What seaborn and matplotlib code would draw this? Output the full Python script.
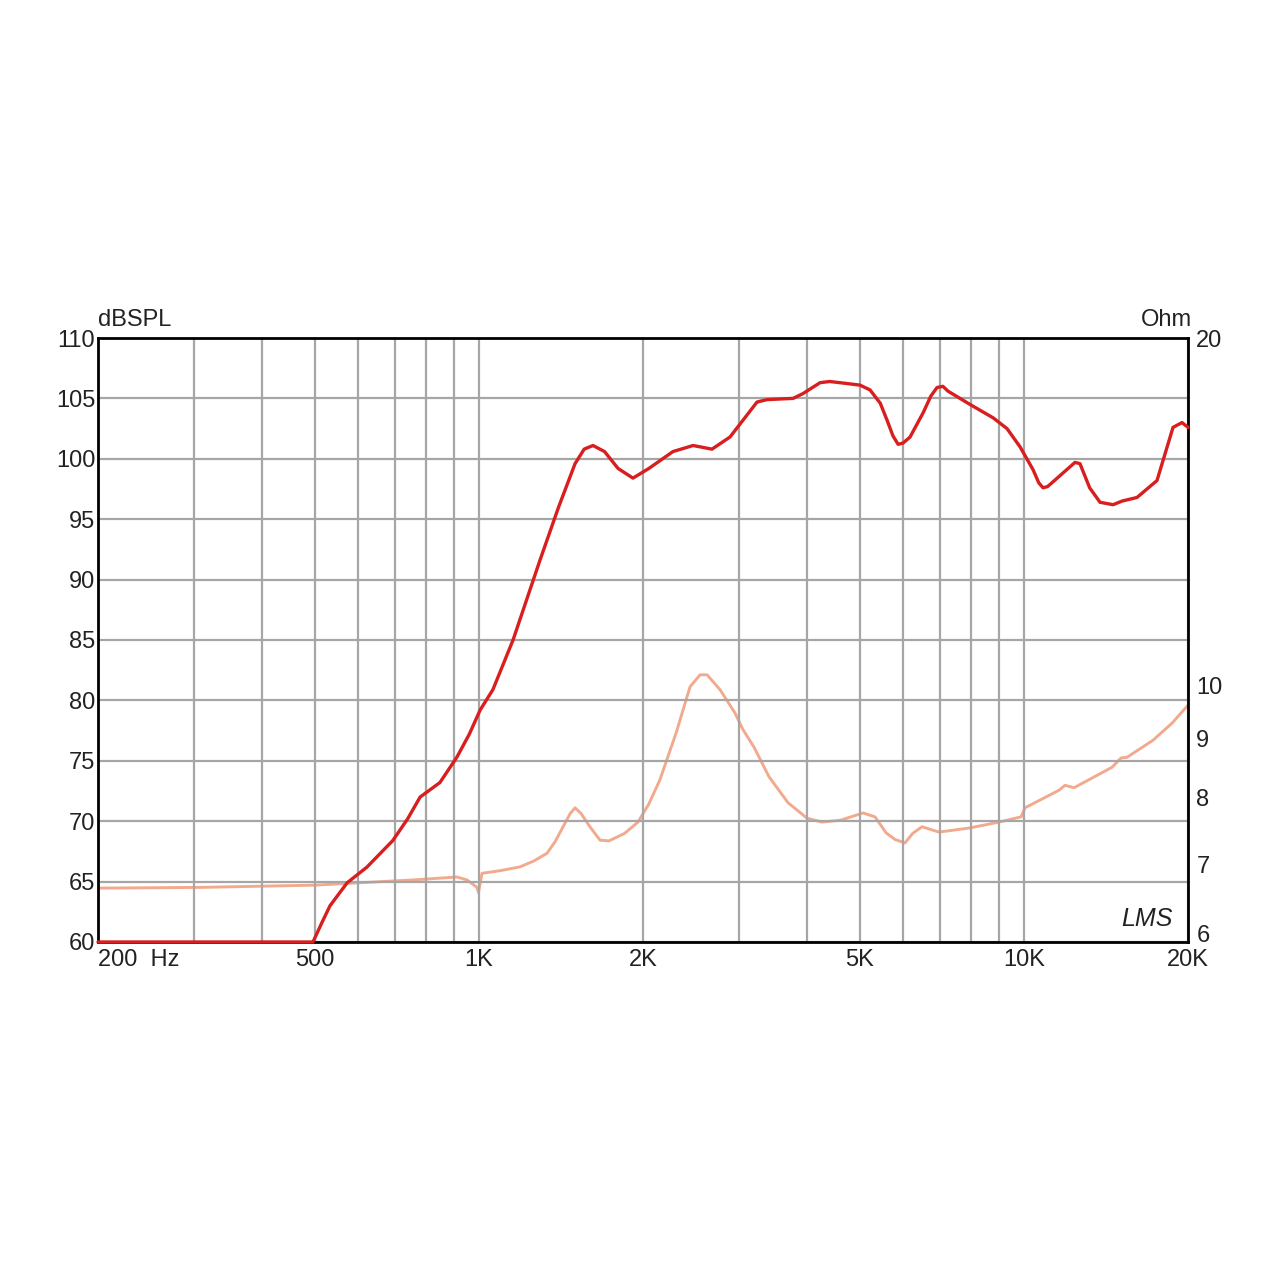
import matplotlib
matplotlib.use('Agg')
import matplotlib.pyplot as plt
import matplotlib.ticker as mticker
import seaborn as sns
import pandas as pd

# Frequenzgang (dBSPL)
spl_freq = [200, 300, 400, 496, 515, 533, 573, 623, 695, 740, 780, 848, 911, 960, 1005,
            1061, 1155, 1294, 1400, 1501, 1560, 1619, 1700, 1800, 1917, 2050, 2270, 2471,
            2677, 2888, 3052, 3238, 3378, 3770, 3932, 4226, 4400, 4598, 5002, 5220, 5450,
            5608, 5750, 5876, 6000, 6180, 6530, 6750, 6926, 7100, 7256, 7962, 8774, 9310,
            9834, 10392, 10650, 10840, 11050, 11310, 12406, 12670, 13200, 13792, 14572,
            15136, 16124, 17544, 18774, 19500, 20000]
spl_db = [60, 60, 60, 60, 61.6, 63.0, 64.9, 66.2, 68.4, 70.2, 72.0, 73.2, 75.3, 77.2, 79.2,
          80.9, 85.0, 91.6, 96.0, 99.6, 100.8, 101.1, 100.6, 99.2, 98.4, 99.2, 100.6, 101.1,
          100.8, 101.8, 103.2, 104.7, 104.9, 105.0, 105.4, 106.3, 106.4, 106.3, 106.1, 105.7, 104.6,
          103.2, 101.9, 101.2, 101.3, 101.8, 103.8, 105.2, 105.9, 106.0, 105.6, 104.5, 103.4, 102.5,
          101.0, 99.1, 98.0, 97.6, 97.7, 98.1, 99.7, 99.6, 97.6, 96.4, 96.2,
          96.5, 96.8, 98.2, 102.6, 103.0, 102.6]

# Impedanz (Ohm)
imp_freq = [200, 308, 500, 757, 911, 951, 992, 998, 1013, 1100, 1190, 1260, 1333, 1380,
            1427, 1470, 1501, 1540, 1598, 1668, 1732, 1850, 1958, 2050, 2148, 2300, 2440,
            2545, 2622, 2770, 2950, 3052, 3196, 3406, 3691, 3999, 4260, 4616, 5066, 5330,
            5584, 5800, 6050, 6250, 6500, 6984, 7930, 9000, 9878, 10046, 11598, 11896,
            12356, 14510, 15078, 15454, 17250, 18692, 20000]
imp_ohm = [6.68, 6.69, 6.72, 6.79, 6.83, 6.79, 6.69, 6.62, 6.88, 6.92, 6.97, 7.05, 7.16, 7.33,
           7.55, 7.75, 7.84, 7.75, 7.55, 7.35, 7.34, 7.45, 7.62, 7.90, 8.29, 9.10, 9.98,
           10.22, 10.22, 9.92, 9.47, 9.16, 8.85, 8.34, 7.92, 7.68, 7.62, 7.65, 7.76, 7.70,
           7.46, 7.36, 7.31, 7.45, 7.55, 7.47, 7.53, 7.62, 7.70, 7.84, 8.12, 8.20,
           8.16, 8.50, 8.66, 8.67, 8.97, 9.28, 9.62]

# Achsenbeschriftungen
x_ticks = [200, 300, 400, 500, 600, 700, 800, 900, 1000,
           2000, 3000, 4000, 5000, 6000, 7000, 8000, 9000, 10000, 20000]
x_labels = ['200  Hz', '', '', '500', '', '', '', '', '1K',
            '2K', '', '', '5K', '', '', '', '', '10K', '20K']
y_ticks = [60, 65, 70, 75, 80, 85, 90, 95, 100, 105, 110]
ohm_ticks = [6, 7, 8, 9, 10, 20]

sns.set_style('white')
plt.rcParams['font.family'] = ['Liberation Sans', 'DejaVu Sans']

df_spl = pd.DataFrame({'f': spl_freq, 'db': spl_db})
df_imp = pd.DataFrame({'f': imp_freq, 'ohm': imp_ohm})

fig = plt.figure(figsize=(12.8, 12.8), dpi=100)
ax = fig.add_axes([98 / 1280, 1 - 942 / 1280, 1090 / 1280, 604 / 1280])

ax.set_xscale('log')
ax.set_xlim(200, 20000)
ax.set_ylim(60, 110)
ax.set_xticks(x_ticks)
ax.set_xticklabels(x_labels)
ax.xaxis.set_minor_locator(mticker.NullLocator())
ax.set_yticks(y_ticks)
ax.grid(True, color='#a6a6a6', linewidth=1.6)
ax.set_axisbelow(True)
ax.tick_params(length=0, labelsize=17, labelcolor='#222222')
ax.tick_params(axis='x', pad=5)
ax.tick_params(axis='y', pad=2)
for lab in ax.get_xticklabels():
    if lab.get_text().startswith('200'):
        lab.set_horizontalalignment('left')
for s in ax.spines.values():
    s.set_color('black')
    s.set_linewidth(2.0)

ax2 = ax.twinx()
ax2.set_yscale('log')
ax2.set_ylim(6, 20)
ax2.set_yticks(ohm_ticks)
ax2.set_yticklabels([str(t) for t in ohm_ticks])
ax2.yaxis.set_minor_locator(mticker.NullLocator())
ax2.tick_params(length=0, labelsize=17, labelcolor='#222222', pad=6)
for lab in ax2.get_yticklabels():
    if lab.get_text() == '6':
        lab.set_verticalalignment('baseline')
for s in ax2.spines.values():
    s.set_visible(False)

sns.lineplot(data=df_imp, x='f', y='ohm', ax=ax2, color='#f2aa8e', linewidth=2.1,
             estimator=None, sort=False, solid_joinstyle='round')
sns.lineplot(data=df_spl, x='f', y='db', ax=ax, color='#d81e1e', linewidth=2.4,
             estimator=None, sort=False, clip_on=False, zorder=5, solid_joinstyle='round')
ax.set_xlabel('')
ax.set_ylabel('')
ax2.set_xlabel('')
ax2.set_ylabel('')
ax2.set_xlim(200, 20000)

# rote Kurve über der zweiten Achse
ax.set_zorder(ax2.get_zorder() + 1)
ax.patch.set_visible(False)

fig.text(98 / 1280, 1 - 320 / 1280, 'dBSPL', fontsize=17, color='#222222',
         ha='left', va='center')
fig.text(1192 / 1280, 1 - 320 / 1280, 'Ohm', fontsize=17, color='#222222',
         ha='right', va='center')
fig.text(1147 / 1280, 1 - 919 / 1280, 'LMS', fontsize=18, color='#222222',
         ha='center', va='center', style='italic')

fig.savefig('out.png', dpi=100, facecolor='white')
